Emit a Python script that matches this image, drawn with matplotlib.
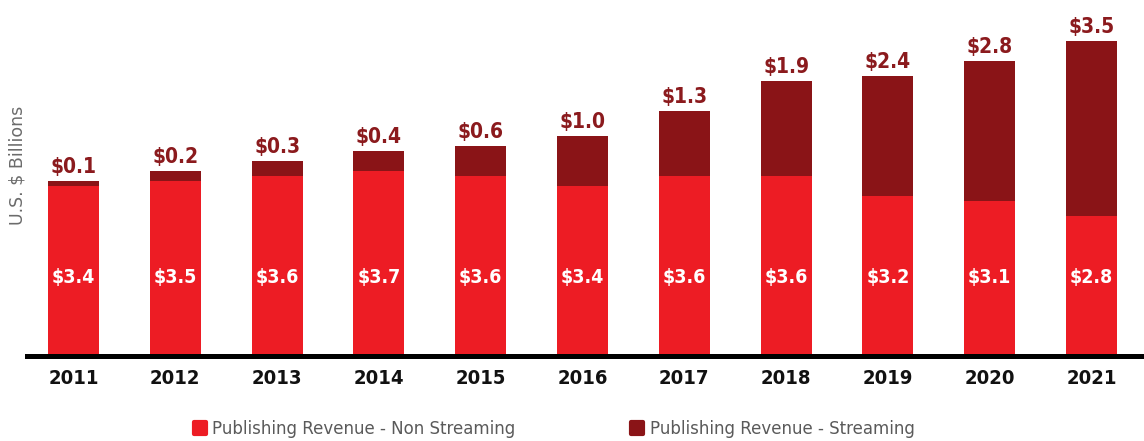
import matplotlib
matplotlib.use('Agg')
import matplotlib.pyplot as plt
from matplotlib import font_manager
from matplotlib.lines import Line2D
from matplotlib.markers import MarkerStyle

years = ['2011', '2012', '2013', '2014', '2015', '2016', '2017', '2018', '2019', '2020', '2021']
non_streaming = [3.4, 3.5, 3.6, 3.7, 3.6, 3.4, 3.6, 3.6, 3.2, 3.1, 2.8]
streaming = [0.1, 0.2, 0.3, 0.4, 0.6, 1.0, 1.3, 1.9, 2.4, 2.8, 3.5]
series_names = ['Publishing Revenue - Non Streaming', 'Publishing Revenue - Streaming']

red = '#ED1C24'
dark = '#8A1417'
label_dark = '#8B1A1D'

# condensed bold font for the numbers, if there is one
names = {f.name for f in font_manager.fontManager.ttflist}
if 'Liberation Sans Narrow' in names:
    cond = dict(family='Liberation Sans Narrow', weight='bold')
else:
    cond = dict(family='DejaVu Sans', stretch='condensed', weight='bold')

W, H = 1144, 441
fig = plt.figure(figsize=(W / 100, H / 100), dpi=100)
ax = fig.add_axes([27 / W, (H - 356) / H, 1 - 27 / W, 356 / H])

x = list(range(len(years)))
ax.bar(x, non_streaming, width=0.5, color=red, zorder=2)
ax.bar(x, streaming, width=0.5, bottom=non_streaming, color=dark, zorder=2)

for i in x:
    total = non_streaming[i] + streaming[i]
    ax.annotate(f'${streaming[i]:.1f}', (i, total), xytext=(0, 3),
                textcoords='offset points', ha='center', va='bottom',
                color=label_dark, fontsize=15, **cond)
    ax.text(i, 1.58, f'${non_streaming[i]:.1f}', ha='center', va='center',
            color='white', fontsize=14, **cond)

ax.set_xlim(-0.457, 10.516)
ax.set_ylim(0, 7.12)
ax.axhline(0, color='black', linewidth=3.6, zorder=3, clip_on=False)

for s in ax.spines.values():
    s.set_visible(False)
ax.set_yticks([])
ax.set_xticks(x)
ax.set_xticklabels(years)
ax.tick_params(axis='x', length=0, pad=9)
for t in ax.get_xticklabels():
    t.set_color('#111111')
    t.set_fontproperties(font_manager.FontProperties(size=14.5, **cond))

fig.text(18 / W, 1 - 165 / H, 'U.S. $ Billions', rotation=90, ha='center',
         va='center', fontsize=12.5, color='#6b6b6b')

handles = [Line2D([], [], linestyle='none',
                  marker=MarkerStyle('s', joinstyle='round'),
                  markersize=8, markeredgewidth=3, color=c)
           for c in (red, dark)]
leg = fig.legend(handles, series_names, loc='center', ncol=2,
                 bbox_to_anchor=(554 / W, 1 - 429 / H), frameon=False,
                 fontsize=12, handlelength=0.8, handletextpad=0.35,
                 columnspacing=6.9)
for t in leg.get_texts():
    t.set_color('#5a5a5a')

fig.savefig('out.png', dpi=100)
